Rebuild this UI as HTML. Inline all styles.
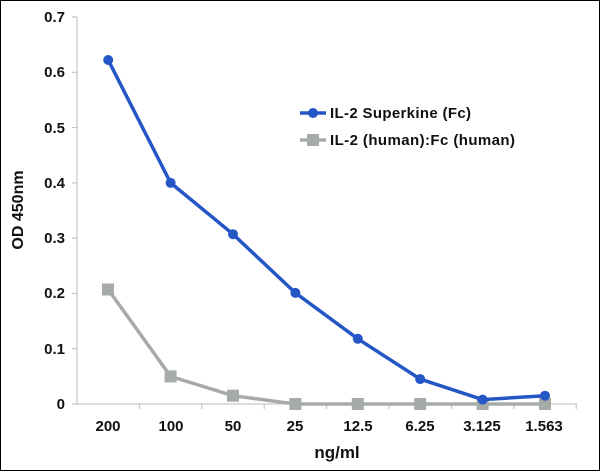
<!DOCTYPE html>
<html><head><style>body{margin:0;background:#fff}</style></head><body>
<svg width="600" height="471" xmlns="http://www.w3.org/2000/svg" font-family="Liberation Sans, sans-serif" font-weight="bold">
<rect x="0.5" y="0.5" width="599" height="470" fill="#fff" stroke="#000" stroke-width="1"/>
<line x1="77" y1="17" x2="77" y2="404" stroke="#bbb"/>
<line x1="77" y1="404" x2="577" y2="404" stroke="#bbb"/>
<g stroke="#bbb">
<line x1="72" y1="17" x2="77" y2="17"/><line x1="72" y1="72.3" x2="77" y2="72.3"/><line x1="72" y1="127.6" x2="77" y2="127.6"/><line x1="72" y1="182.9" x2="77" y2="182.9"/><line x1="72" y1="238.1" x2="77" y2="238.1"/><line x1="72" y1="293.4" x2="77" y2="293.4"/><line x1="72" y1="348.7" x2="77" y2="348.7"/><line x1="72" y1="404" x2="77" y2="404"/>
<line x1="139.4" y1="404" x2="139.4" y2="409"/><line x1="201.8" y1="404" x2="201.8" y2="409"/><line x1="264.2" y1="404" x2="264.2" y2="409"/><line x1="326.6" y1="404" x2="326.6" y2="409"/><line x1="389" y1="404" x2="389" y2="409"/><line x1="451.4" y1="404" x2="451.4" y2="409"/><line x1="513.8" y1="404" x2="513.8" y2="409"/><line x1="576.2" y1="404" x2="576.2" y2="409"/>
</g>
<g font-size="15" text-anchor="end" fill="#111">
<text x="65" y="22">0.7</text><text x="65" y="77">0.6</text><text x="65" y="133">0.5</text><text x="65" y="188">0.4</text><text x="65" y="243">0.3</text><text x="65" y="298">0.2</text><text x="65" y="354">0.1</text><text x="65" y="409">0</text>
</g>
<g font-size="15" text-anchor="middle" fill="#111">
<text x="108" y="431">200</text><text x="171" y="431">100</text><text x="233" y="431">50</text><text x="295" y="431">25</text><text x="358" y="431">12.5</text><text x="420" y="431">6.25</text><text x="482" y="431">3.125</text><text x="544" y="431">1.563</text>
<text x="337" y="458" font-size="17">ng/ml</text>
<text transform="translate(23,210) rotate(-90)" font-size="16">OD 450nm</text>
</g>
<polyline fill="none" stroke="#a6aba8" stroke-width="3.5" points="108.2,289.5 170.6,376.4 233,395.7 295.4,404 357.8,404 420.2,404 482.6,404 545,404"/>
<g fill="#a6aba8">
<rect x="102" y="283.5" width="12" height="12"/><rect x="164.6" y="370.4" width="12" height="12"/><rect x="227" y="389.7" width="12" height="12"/><rect x="289.4" y="398" width="12" height="12"/><rect x="351.8" y="398" width="12" height="12"/><rect x="414.2" y="398" width="12" height="12"/><rect x="476.6" y="398" width="12" height="12"/><rect x="539" y="398" width="12" height="12"/>
</g>
<polyline fill="none" stroke="#2457c5" stroke-width="3.5" points="108.2,60 170.6,182.9 233,234.2 295.4,292.9 357.8,338.8 420.2,379.1 482.6,399.6 545,395.7"/>
<g fill="#2457c5">
<circle cx="108.2" cy="60" r="5"/><circle cx="170.6" cy="182.9" r="5"/><circle cx="233" cy="234.2" r="5"/><circle cx="295.4" cy="292.9" r="5"/><circle cx="357.8" cy="338.8" r="5"/><circle cx="420.2" cy="379.1" r="5"/><circle cx="482.6" cy="399.6" r="5"/><circle cx="545" cy="395.7" r="5"/>
</g>
<line x1="300" y1="113" x2="326" y2="113" stroke="#2457c5" stroke-width="3.5"/><circle cx="313" cy="113" r="5" fill="#2457c5"/>
<line x1="300" y1="140" x2="326" y2="140" stroke="#a6aba8" stroke-width="3.5"/><rect x="307" y="134" width="12" height="12" fill="#a6aba8"/>
<g font-size="15" fill="#111"><text x="330" y="118" textLength="141">IL-2 Superkine (Fc)</text><text x="330" y="145" textLength="185">IL-2 (human):Fc (human)</text></g>
</svg>
</body></html>
